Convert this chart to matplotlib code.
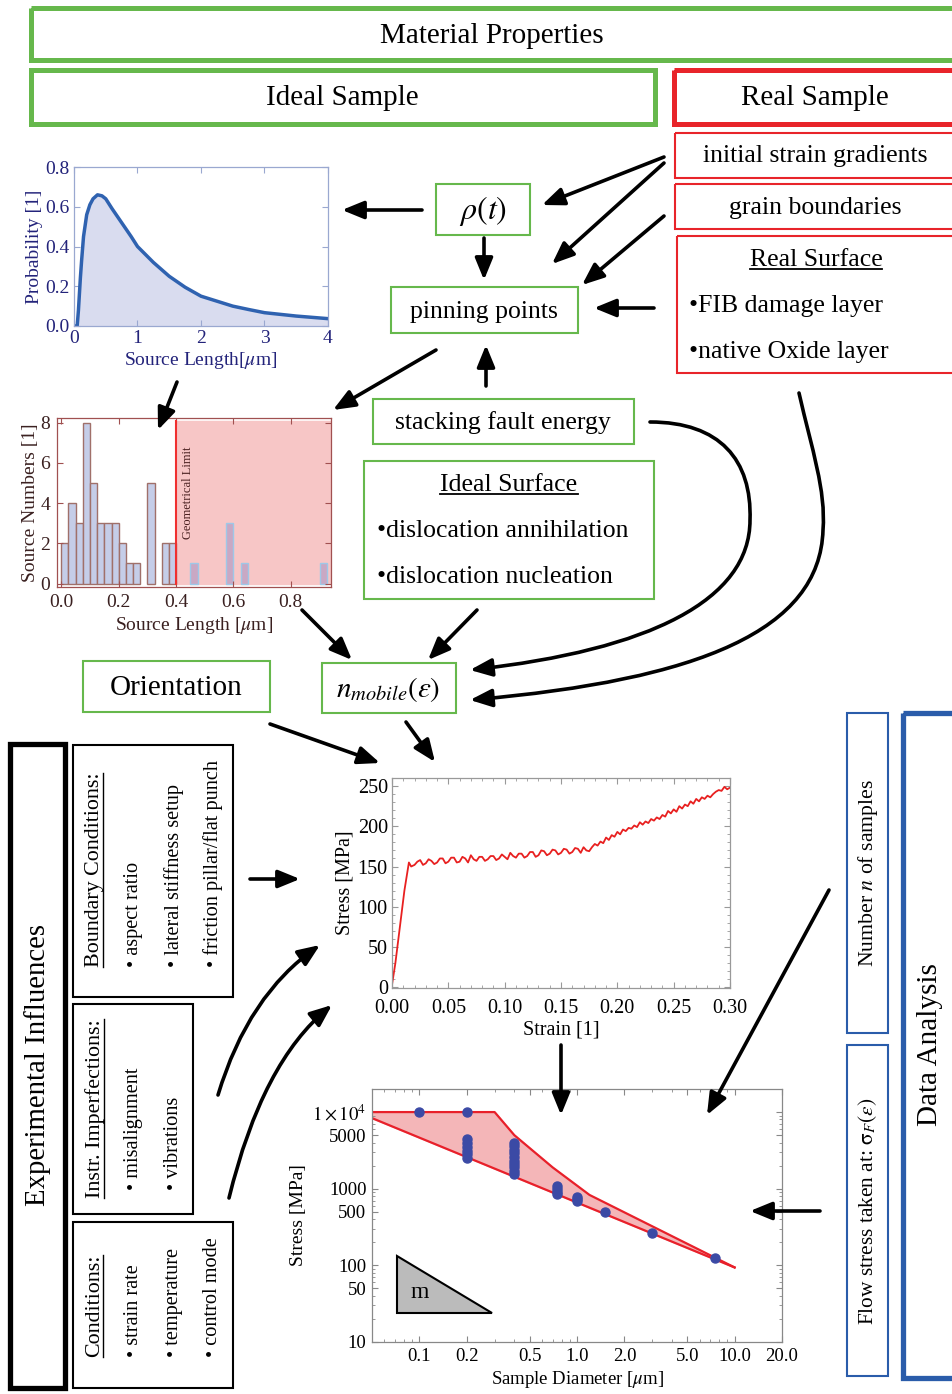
import matplotlib
matplotlib.use("Agg")
import matplotlib.pyplot as plt
import numpy as np
from matplotlib.patches import Rectangle, FancyArrowPatch, Polygon
from matplotlib.path import Path

plt.rcParams['font.family'] = ['Liberation Serif', 'DejaVu Serif']
plt.rcParams['mathtext.fontset'] = 'stix'

# --- data ---
# probability of source length
prob_x = [0.0, 0.05, 0.07, 0.1, 0.12, 0.15, 0.2, 0.25, 0.3, 0.37, 0.44, 0.5, 0.6, 0.75, 0.9,
          1.0, 1.25, 1.5, 1.75, 2.0, 2.25, 2.5, 2.75, 3.0, 3.5, 4.0]
prob_y = [0.0, 0.0, 0.08, 0.24, 0.33, 0.45, 0.56, 0.61, 0.64, 0.66, 0.655, 0.64, 0.59, 0.52, 0.45,
          0.40, 0.32, 0.25, 0.195, 0.15, 0.125, 0.10, 0.083, 0.067, 0.05, 0.037]

# histogram of source numbers (bin width 0.025 um)
bin_left = [0.0, 0.025, 0.05, 0.075, 0.1, 0.125, 0.15, 0.175, 0.2, 0.225, 0.25, 0.3, 0.35, 0.375]
bin_count = [2, 4, 3, 8, 5, 3, 3, 3, 2, 1, 1, 5, 2, 2]
out_left = [0.45, 0.575, 0.625, 0.9]
out_count = [1, 3, 1, 1]
geo_limit = 0.4

# stress-strain curve
strain_el = [0.0, 0.003, 0.007, 0.011, 0.015, 0.017]
stress_el = [3, 30, 75, 120, 155, 150]
strain_pl = np.arange(0.02, 0.3001, 0.0025)
stress_pl = [152, 156, 158, 152, 154, 159, 157, 153, 155, 160, 160, 154, 156, 161, 161, 155,
             156, 162, 160, 155, 164, 159, 157, 162, 162, 157, 159, 163, 163, 158, 160, 165,
             162, 159, 167, 163, 161, 166, 166, 161, 163, 168, 168, 162, 164, 170, 169, 164,
             166, 171, 170, 165, 167, 172, 171, 166, 168, 173, 172, 167, 174, 170, 169, 174,
             178, 176, 181, 179, 186, 183, 189, 187, 193, 190, 196, 194, 198, 197, 201, 199,
             205, 202, 206, 204, 209, 207, 211, 209, 214, 212, 219, 216, 221, 218, 225, 222,
             227, 225, 231, 228, 234, 231, 236, 234, 238, 236, 240, 243, 245, 244, 249, 246,
             248]

# size effect (log-log)
diam = [0.1, 0.2, 0.2, 0.2, 0.2, 0.2, 0.2, 0.2,
        0.4, 0.4, 0.4, 0.4, 0.4, 0.4, 0.4, 0.4, 0.4, 0.4,
        0.75, 0.75, 0.75, 0.75, 1.0, 1.0, 1.0, 1.5, 3.0, 7.5]
flow = [10000, 10000, 4500, 4000, 3500, 3100, 2800, 2550,
        4000, 3600, 3200, 2900, 2600, 2300, 2100, 1900, 1700, 1550,
        1100, 1000, 900, 850, 780, 730, 690, 490, 265, 125]
upper_x = [0.05, 0.3, 0.4, 0.7, 1.2, 10.0]
upper_y = [10000, 10000, 5000, 1900, 830, 94]
lower_x = [0.05, 10.0]
lower_y = [8340, 94]

W, H = 953, 1394
fig = plt.figure(figsize=(W / 100, H / 100), dpi=100)


def rect(x0, y0, x1, y1):
    return [x0 / W, 1 - y1 / H, (x1 - x0) / W, (y1 - y0) / H]


def frame(a, col, labcol, size=14, pad=2):
    for s in a.spines.values():
        s.set_color(col)
        s.set_linewidth(0.9)
    a.tick_params(which='both', direction='in', top=True, right=True, color=col,
                  labelcolor=labcol, labelsize=size, length=4, pad=pad)
    a.tick_params(which='minor', length=2)
    a.set_facecolor('none')


# probability chart
a1 = fig.add_axes(rect(74, 167, 328, 326))
a1.fill_between(prob_x, prob_y, color='#d9dcef')
a1.plot(prob_x, prob_y, color='#2f62b0', lw=2.5)
a1.set_xlim(0, 4)
a1.set_ylim(0, 0.8)
a1.set_xticks([0, 1, 2, 3, 4])
a1.set_yticks([0, 0.2, 0.4, 0.6, 0.8])
a1.set_yticklabels(['0.0', '0.2', '0.4', '0.6', '0.8'])
frame(a1, '#9aa8d0', '#23237a', 14, 3)
a1.set_ylabel('Probability [1]', color='#23237a', fontsize=14, labelpad=2)
a1.set_xlabel('Source Length[$\\mu$m]', color='#23237a', fontsize=14, labelpad=2)

# histogram
a2 = fig.add_axes(rect(57, 418, 331, 587))
a2.fill_between([geo_limit, 0.94], 0, 8.1, color='#f7c6c6', zorder=0)
a2.bar(bin_left, bin_count, width=0.025, align='edge', color='#c5cde8', edgecolor='#a0706a', lw=1, zorder=1)
a2.bar(out_left, out_count, width=0.025, align='edge', color='#c9a8c4', edgecolor='#9ec8e8', lw=1, zorder=1)
a2.plot([geo_limit, geo_limit], [0, 8.1], color='#f03030', lw=1.5, zorder=2)
a2.text(0.443, 4.5, 'Geometrical Limit', rotation=90, ha='center', va='center', fontsize=9, color='#4a2020')
a2.set_xlim(-0.015, 0.94)
a2.set_ylim(-0.17, 8.23)
a2.set_xticks([0, 0.2, 0.4, 0.6, 0.8])
a2.set_xticklabels(['0.0', '0.2', '0.4', '0.6', '0.8'])
a2.set_yticks([0, 2, 4, 6, 8])
frame(a2, '#a05050', '#3a2020', 14, 5)
a2.set_ylabel('Source Numbers [1]', fontsize=14, color='#3a2020', labelpad=1)
a2.set_xlabel('Source Length [$\\mu$m]', fontsize=14, color='#3a2020', labelpad=3)

# stress strain
a3 = fig.add_axes(rect(392, 778, 730, 988))
a3.plot(list(strain_el) + list(strain_pl), stress_el + stress_pl, color='#e82020', lw=1.3)
a3.set_xlim(0, 0.30)
a3.set_ylim(-1, 260)
a3.set_xticks([0, 0.05, 0.1, 0.15, 0.2, 0.25, 0.3])
a3.set_xticklabels(['0.00', '0.05', '0.10', '0.15', '0.20', '0.25', '0.30'])
a3.set_yticks([0, 50, 100, 150, 200, 250])
a3.minorticks_on()
frame(a3, '#999999', 'k', 14.5, 3)
a3.tick_params(axis='x', which='major', pad=8)
a3.set_ylabel('Stress [MPa]', fontsize=14.5, labelpad=2)
a3.set_xlabel('Strain [1]', fontsize=14.5, labelpad=2)

# log-log size effect
a4 = fig.add_axes(rect(372, 1089, 782, 1342))
a4.set_xscale('log')
a4.set_yscale('log')
ux = np.logspace(np.log10(0.05), 1, 300)
up = np.interp(np.log10(ux), np.log10(upper_x), np.log10(upper_y))
lo = np.interp(np.log10(ux), np.log10(lower_x), np.log10(lower_y))
a4.fill_between(ux, 10 ** lo, 10 ** up, color='#f4b6b8')
a4.plot(upper_x, upper_y, color='#e8202a', lw=1.6)
a4.plot(lower_x, lower_y, color='#e8202a', lw=1.6)
a4.plot(diam, flow, 'o', color='#3b4aa5', ms=6.5)
a4.add_patch(Polygon([(0.0718, 133), (0.0718, 23.7), (0.288, 23.7)], closed=True,
                     fc='#bbbbbb', ec='k', lw=1.5))
a4.text(0.1, 44, 'm', fontsize=17, ha='center', va='center')
a4.set_xlim(0.05, 20)
a4.set_ylim(10, 2e4)
a4.set_xticks([0.1, 0.2, 0.5, 1, 2, 5, 10, 20])
a4.set_xticklabels(['0.1', '0.2', '0.5', '1.0', '2.0', '5.0', '10.0', '20.0'])
a4.set_yticks([10, 50, 100, 500, 1000, 5000, 10000])
a4.set_yticklabels(['10', '50', '100', '500', '1000', '5000', '$1\\times10^4$'])
frame(a4, '#888888', 'k', 13.5, 4)
a4.set_ylabel('Stress [MPa]', fontsize=14, labelpad=4)
a4.set_xlabel('Sample Diameter [$\\mu$m]', fontsize=13.5, labelpad=3)

# overlay for boxes, texts, arrows
ov = fig.add_axes([0, 0, 1, 1], zorder=10)
ov.set_xlim(0, W)
ov.set_ylim(H, 0)
ov.axis('off')

GREEN = '#66b84c'
RED = '#e8242a'
BLUE = '#2a5caa'


def box(x0, y0, x1, y1, col, lw):
    ov.add_patch(Rectangle((x0, y0), x1 - x0, y1 - y0, fill=False, ec=col, lw=lw))


def txt(x, y, s, size=18.5, **kw):
    kw.setdefault('ha', 'center')
    kw.setdefault('va', 'center')
    return ov.text(x, y, s, fontsize=size, **kw)


box(31, 8, 962, 60, GREEN, 3.6)
txt(492, 36, 'Material Properties', 21)
box(31, 70, 655, 124, GREEN, 3.6)
txt(342, 98, 'Ideal Sample', 21)
box(674, 70, 962, 124, RED, 3.6)
txt(815, 98, 'Real Sample', 21)

box(675, 133, 962, 178, RED, 1.5)
txt(815, 156, 'initial strain gradients')
box(675, 184, 962, 229, RED, 1.5)
txt(815, 208, 'grain boundaries')
box(677, 236, 962, 373, RED, 1.5)
u1 = txt(816, 260, 'Real Surface')
txt(689, 306, '\u2022FIB damage layer', ha='left')
txt(689, 352, '\u2022native Oxide layer', ha='left')

box(436, 184, 530, 235, GREEN, 1.5)
txt(483, 211, '$\\rho(t)$', 23)
box(391, 287, 578, 333, GREEN, 1.5)
txt(484, 312, 'pinning points')
box(373, 399, 634, 444, GREEN, 1.5)
txt(503, 423, 'stacking fault energy')
box(364, 461, 654, 599, GREEN, 1.5)
u2 = txt(509, 485, 'Ideal Surface')
txt(377, 531, '\u2022dislocation annihilation', ha='left')
txt(377, 577, '\u2022dislocation nucleation', ha='left')
box(83, 661, 270, 712, GREEN, 1.5)
txt(176, 688, 'Orientation', 21)
box(322, 663, 456, 713, GREEN, 1.5)
txt(388, 690, '$n_{mobile}(\\varepsilon)$', 21)

# experimental influences
FH = 15.8   # headings
FB = 14.6   # bullet lines
box(10, 744, 65, 1388, 'k', 3.8)
txt(38, 1065, 'Experimental Influences', 20.7, rotation=90)
box(73, 745, 233, 997, 'k', 1.5)
u3 = txt(95, 967, 'Boundary Conditions:', FH, rotation=90, va='bottom')
txt(134, 967, '\u2022 aspect ratio', FB, rotation=90, va='bottom')
txt(174, 967, '\u2022 lateral stiffness setup', FB, rotation=90, va='bottom')
txt(213, 967, '\u2022 friction pillar/flat punch', FB, rotation=90, va='bottom')
box(73, 1004, 193, 1214, 'k', 1.5)
u4 = txt(95, 1198, 'Instr. Imperfections:', FH, rotation=90, va='bottom')
txt(134, 1190, '\u2022 misalignment', FB, rotation=90, va='bottom')
txt(174, 1190, '\u2022 vibrations', FB, rotation=90, va='bottom')
box(73, 1222, 233, 1388, 'k', 1.5)
u5 = txt(95, 1357, 'Conditions:', FH, rotation=90, va='bottom')
txt(134, 1357, '\u2022 strain rate', FB, rotation=90, va='bottom')
txt(174, 1357, '\u2022 temperature', FB, rotation=90, va='bottom')
txt(213, 1357, '\u2022 control mode', FB, rotation=90, va='bottom')

# data analysis
box(847, 713, 888, 1033, BLUE, 1.5)
txt(868, 873, 'Number $n$ of samples', 15.7, rotation=90)
box(847, 1045, 888, 1376, BLUE, 1.5)
txt(868, 1211, 'Flow stress taken at: $\\mathrm{\\sigma}_F(\\varepsilon)$', 15.4, rotation=90)
box(903, 713, 962, 1378, BLUE, 3.8)
txt(930, 1045, 'Data Analysis', 21, rotation=90)

AST = '-|>,head_length=1.1,head_width=0.45'


def arrow(x0, y0, x1, y1):
    ov.add_patch(FancyArrowPatch((x0, y0), (x1, y1), arrowstyle=AST, mutation_scale=12,
                                 lw=2.6, color='k', shrinkA=0, shrinkB=0))


def curve(verts, codes):
    ov.add_patch(FancyArrowPatch(path=Path(verts, codes), arrowstyle=AST, mutation_scale=12,
                                 lw=2.6, color='k', shrinkA=0, shrinkB=0))


arrow(422, 210, 342, 210)
arrow(484, 238, 484, 280)
arrow(664, 157, 542, 205)
arrow(664, 163, 552, 264)
arrow(664, 216, 582, 285)
arrow(654, 308, 594, 308)
arrow(436, 350, 333, 410)
arrow(486, 386, 486, 345)
arrow(177, 382, 158, 430)
arrow(302, 610, 352, 660)
arrow(477, 610, 428, 660)
arrow(270, 724, 380, 763)
arrow(406, 722, 435, 762)
arrow(250, 879, 300, 879)
arrow(561, 1045, 561, 1115)
arrow(829, 890, 707, 1115)
arrow(820, 1211, 750, 1211)

C4 = Path.CURVE4
curve([(650, 422), (720, 422), (752, 460), (750, 520), (750, 600), (650, 650), (470, 670)],
      [Path.MOVETO, C4, C4, C4, C4, C4, C4])
curve([(799, 393), (812, 450), (826, 490), (823, 530), (820, 630), (700, 680), (470, 700)],
      [Path.MOVETO, C4, C4, C4, C4, C4, C4])
C3 = Path.CURVE3
curve([(218, 1095), (248, 995), (320, 945)], [Path.MOVETO, C3, C3])
curve([(229, 1198), (262, 1062), (332, 1005)], [Path.MOVETO, C3, C3])

# underlines
fig.canvas.draw()
rend = fig.canvas.get_renderer()
inv = ov.transData.inverted()
for t in [u1, u2]:
    bb = t.get_window_extent(renderer=rend).transformed(inv)
    yb = max(bb.y0, bb.y1) - 2
    ov.plot([bb.x0, bb.x1], [yb, yb], color='k', lw=1.3)
for t in [u3, u4, u5]:
    bb = t.get_window_extent(renderer=rend).transformed(inv)
    xb = max(bb.x0, bb.x1) - 1
    ov.plot([xb, xb], [bb.y0, bb.y1], color='k', lw=1.0)

fig.savefig('out.png', dpi=100)
